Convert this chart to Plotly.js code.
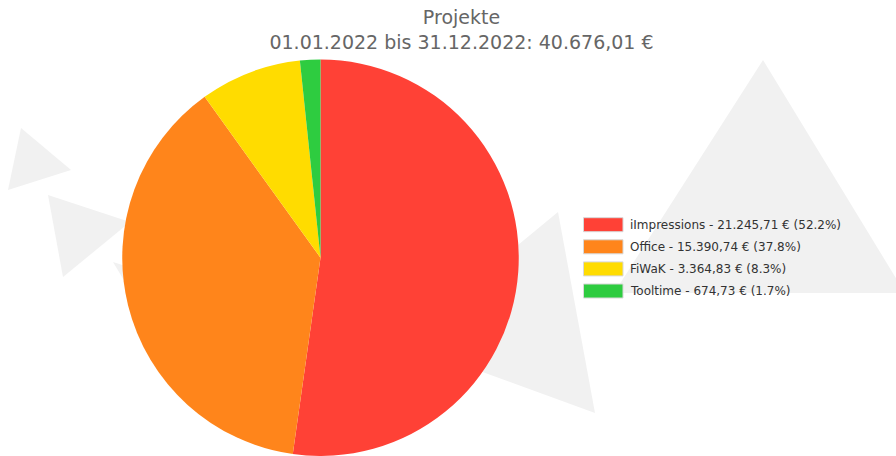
<!DOCTYPE html>
<html>
<head>
<meta charset="utf-8">
<script src="https://cdn.plot.ly/plotly-3.0.1.min.js"></script>
<style>
  html, body { margin: 0; padding: 0; background: #ffffff; }
  #chart { width: 896px; height: 456px; }
</style>
</head>
<body>
<div id="chart"></div>
<script>
// ---- data ----
const categories = ["iImpressions", "Office", "FiWaK", "Tooltime"];
const amounts = [21245.71, 15390.74, 3364.83, 674.73];
const sliceColors = ["#FF4136", "#FF851B", "#FFDC00", "#2ECC40"];
const titleMain = "Projekte";
const periodText = "01.01.2022 bis 31.12.2022";

// ---- helpers ----
function fmtDE(v) {
  const parts = v.toFixed(2).split(".");
  const intPart = parts[0].replace(/\B(?=(\d{3})+(?!\d))/g, ".");
  return intPart + "," + parts[1];
}
const W = 896, H = 456;
const px = x => x / W;
const py = y => 1 - y / H;

const total = amounts.reduce((a, b) => a + b, 0);
const legendTexts = categories.map((c, i) =>
  c + " - " + fmtDE(amounts[i]) + " € (" + (amounts[i] / total * 100).toFixed(1) + "%)");

// decorative background triangles (pixel coords)
const triangles = [
  [[21,128],[71,170],[8,190]],
  [[48,195],[130,222],[63,277]],
  [[113,262],[200,290],[140,307]],
  [[558,212],[595,413],[400,342]],
  [[763,60],[614,293],[905,293]]
];
const shapes = triangles.map(t => ({
  type: "path",
  xref: "paper", yref: "paper",
  path: "M" + t.map(p => px(p[0]) + "," + py(p[1])).join(" L") + " Z",
  fillcolor: "#f1f1f1",
  line: { width: 0 },
  layer: "below"
}));

// custom legend
const legTop = 224.7, legStep = 22.1;
const annotations = [];
categories.forEach((c, i) => {
  const yc = legTop + i * legStep;
  shapes.push({
    type: "rect", xref: "paper", yref: "paper",
    x0: px(583.5), x1: px(623), y0: py(yc - 7), y1: py(yc + 7),
    fillcolor: sliceColors[i],
    line: { color: "#d8d8d8", width: 1 },
    layer: "above"
  });
  annotations.push({
    xref: "paper", yref: "paper",
    x: px(628), y: py(yc),
    xanchor: "left", yanchor: "middle",
    text: legendTexts[i],
    showarrow: false,
    font: { family: "DejaVu Sans", size: 12, color: "#333333" }
  });
});

const trace = {
  type: "pie",
  labels: categories,
  values: amounts,
  marker: { colors: sliceColors, line: { width: 0 } },
  sort: false,
  direction: "clockwise",
  rotation: 0,
  textinfo: "none",
  hoverinfo: "none",
  showlegend: false,
  domain: { x: [px(122), px(519)], y: [0, py(59.5)] }
};

const layout = {
  width: W, height: H,
  margin: { l: 0, r: 0, t: 0, b: 0 },
  paper_bgcolor: "#ffffff",
  plot_bgcolor: "#ffffff",
  showlegend: false,
  title: {
    text: titleMain + "<br>" + periodText + ": " + fmtDE(total) + " €",
    font: { family: "DejaVu Sans", size: 19, color: "#666666" },
    x: 461.5 / W, xanchor: "center", xref: "paper",
    y: 1 - 24 / H, yanchor: "top", yref: "container"
  },
  shapes: shapes,
  annotations: annotations
};

Plotly.newPlot("chart", [trace], layout, { staticPlot: true, displayModeBar: false });
</script>
</body>
</html>
